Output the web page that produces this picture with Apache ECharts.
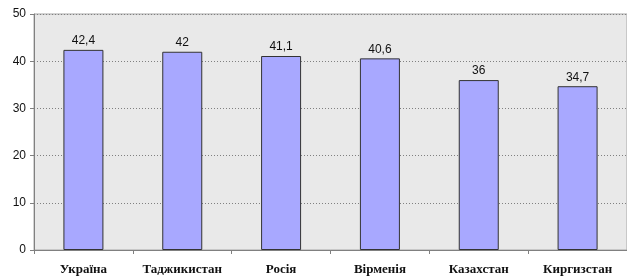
<!DOCTYPE html>
<html>
<head>
<meta charset="utf-8">
<script src="https://cdn.jsdelivr.net/npm/echarts@6/dist/echarts.min.js"></script>
<style>
html,body{margin:0;padding:0;background:#fff;}
#e1{width:627px;height:280px;}
</style>
</head>
<body>
<div id="e1"></div>
<script>
var countries = ['Україна', 'Таджикистан', 'Росія', 'Вірменія', 'Казахстан', 'Киргизстан'];
var values = [42.4, 42, 41.1, 40.6, 36, 34.7];
var yTicks = [0, 10, 20, 30, 40, 50];

var e1 = echarts.init(document.getElementById('e1'));
var option1 = {
	animation: false,
	grid: {
		left: 34,
		right: 0,
		top: 14,
		bottom: 30,
		show: true,
		backgroundColor: '#e9e9e9',
		borderColor: '#a6a6a6',
		borderWidth: 1
	},
	xAxis: {
		type: 'category',
		data: countries,
		axisLine: { lineStyle: { color: '#808080', width: 1 } },
		axisTick: { show: true, interval: 0, length: 4, lineStyle: { color: '#808080' } },
		axisLabel: {
			interval: 0,
			margin: 13,
			color: '#111',
			fontFamily: 'Liberation Serif',
			fontSize: 13,
			fontWeight: 'bold'
		}
	},
	yAxis: {
		type: 'value',
		min: yTicks[0],
		max: yTicks[yTicks.length - 1],
		interval: 10,
		axisLine: { show: true, lineStyle: { color: '#808080', width: 1 } },
		axisTick: { show: true, length: 4, lineStyle: { color: '#808080' } },
		axisLabel: {
			margin: 8,
			color: '#111',
			fontFamily: 'Liberation Sans',
			fontSize: 12
		},
		splitLine: {
			show: true,
			lineStyle: { color: '#808080', type: [1, 2], width: 1 }
		}
	},
	series: [{
		type: 'bar',
		data: values,
		barWidth: 40,
		itemStyle: {
			color: '#a8a8ff',
			borderColor: '#333333',
			borderWidth: 1
		},
		label: {
			show: true,
			position: 'top',
			distance: 3,
			color: '#111',
			fontFamily: 'Liberation Sans',
			fontSize: 12,
			formatter: function (p) {
				return String(p.value).replace('.', ',');
			}
		}
	}]
};
e1.setOption(option1);
</script>
</body>
</html>
